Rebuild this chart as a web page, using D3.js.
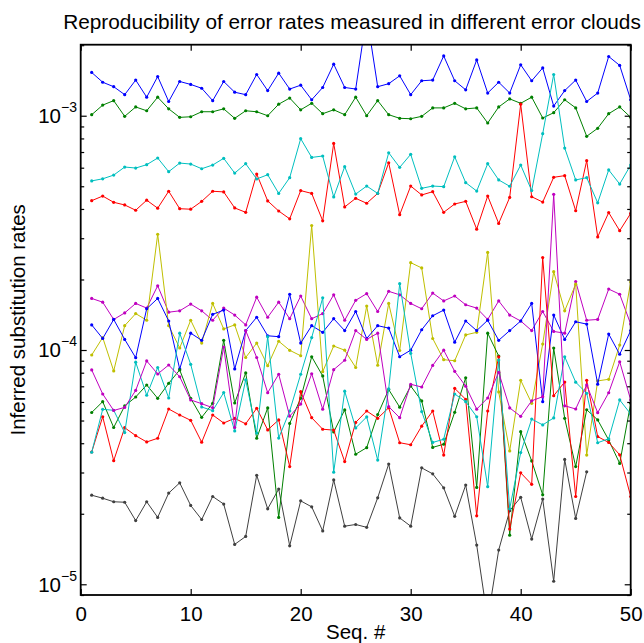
<!DOCTYPE html>
<html><head><meta charset="utf-8">
<script src="https://cdn.jsdelivr.net/npm/d3@7"></script>
<style>body{margin:0;background:#fff} svg{display:block} text{font-family:"Liberation Sans",Arial,Helvetica,sans-serif;fill:#000}</style>
</head><body><svg id="c" width="644" height="643"></svg>
<script>
const seqNo = [1,2,3,4,5,6,7,8,9,10,11,12,13,14,15,16,17,18,19,20,21,22,23,24,25,26,27,28,29,30,31,32,33,34,35,36,37,38,39,40,41,42,43,44,45,46,47,48,49,50];
const xTicks = [0,10,20,30,40,50];
const yMajorTicks = [1e-5,1e-4,1e-3];
const yTickExponents = ["\u22125","\u22124","\u22123"];

const blueHigh = [1.53e-3,1.39e-3,1.33e-3,1.23e-3,1.42e-3,1.20e-3,1.47e-3,1.15e-3,1.40e-3,1.36e-3,1.31e-3,1.16e-3,1.40e-3,1.26e-3,1.23e-3,1.50e-3,1.28e-3,1.52e-3,1.30e-3,1.35e-3,1.17e-3,1.32e-3,1.66e-3,1.32e-3,1.30e-3,2.69e-3,1.33e-3,1.37e-3,1.48e-3,1.23e-3,1.41e-3,1.42e-3,1.80e-3,1.41e-3,1.29e-3,1.73e-3,1.25e-3,1.39e-3,1.25e-3,1.65e-3,1.41e-3,1.60e-3,1.10e-3,1.28e-3,1.42e-3,1.15e-3,1.25e-3,1.79e-3,1.64e-3,1.17e-3];
const greenHigh = [1.01e-3,1.11e-3,1.16e-3,0.994e-3,1.09e-3,1.05e-3,1.20e-3,1.07e-3,0.984e-3,0.990e-3,1.04e-3,1.04e-3,1.07e-3,0.975e-3,1.05e-3,1.04e-3,1.00e-3,1.12e-3,1.19e-3,1.06e-3,1.13e-3,1.02e-3,1.06e-3,1.01e-3,1.20e-3,1.00e-3,1.16e-3,1.01e-3,0.975e-3,0.971e-3,0.994e-3,1.08e-3,1.08e-3,1.13e-3,1.07e-3,1.08e-3,0.931e-3,1.09e-3,1.18e-3,1.13e-3,1.20e-3,0.978e-3,1.03e-3,1.17e-3,1.08e-3,0.817e-3,0.884e-3,1.02e-3,1.09e-3,0.984e-3];
const redHigh = [4.34e-4,4.54e-4,4.27e-4,4.16e-4,3.95e-4,4.36e-4,4.03e-4,4.76e-4,4.01e-4,3.99e-4,4.31e-4,4.76e-4,4.73e-4,4.04e-4,3.87e-4,5.64e-4,4.33e-4,3.92e-4,3.63e-4,4.79e-4,4.66e-4,3.56e-4,7.62e-4,4.08e-4,4.44e-4,4.23e-4,4.66e-4,6.30e-4,3.78e-4,5.01e-4,4.59e-4,4.74e-4,3.87e-4,4.20e-4,4.31e-4,3.28e-4,4.54e-4,3.47e-4,4.48e-4,11.2e-4,4.51e-4,4.28e-4,5.46e-4,5.55e-4,3.93e-4,6.43e-4,3.04e-4,3.86e-4,3.23e-4,3.83e-4];
const cyanHigh = [5.27e-4,5.38e-4,5.58e-4,6.04e-4,5.98e-4,6.18e-4,6.60e-4,5.77e-4,6.28e-4,6.22e-4,5.94e-4,6.16e-4,6.58e-4,5.69e-4,6.24e-4,5.37e-4,5.60e-4,4.66e-4,5.44e-4,7.98e-4,6.64e-4,6.73e-4,4.50e-4,6.06e-4,4.63e-4,5.01e-4,4.66e-4,6.95e-4,6.02e-4,6.84e-4,4.90e-4,5.01e-4,4.98e-4,6.68e-4,5.18e-4,4.77e-4,6.24e-4,5.32e-4,5.00e-4,6.16e-4,4.79e-4,8.38e-4,15.0e-4,7.28e-4,5.32e-4,5.44e-4,4.25e-4,5.87e-4,5.11e-4,6.16e-4];
const magentaHigh = [1.66e-4,1.60e-4,1.35e-4,1.44e-4,1.58e-4,1.51e-4,1.88e-4,1.45e-4,1.47e-4,1.57e-4,1.47e-4,1.34e-4,1.51e-4,1.41e-4,1.28e-4,1.68e-4,1.38e-4,1.60e-4,1.36e-4,1.70e-4,1.36e-4,1.43e-4,1.72e-4,1.34e-4,1.63e-4,1.74e-4,1.46e-4,1.78e-4,1.72e-4,1.58e-4,1.50e-4,1.75e-4,1.62e-4,1.70e-4,1.56e-4,1.51e-4,1.35e-4,1.62e-4,1.41e-4,1.33e-4,1.21e-4,1.46e-4,1.20e-4,1.18e-4,1.96e-4,1.34e-4,1.35e-4,1.82e-4,1.73e-4,1.29e-4];
const yellowSeries = [0.952e-4,1.13e-4,0.814e-4,1.27e-4,1.43e-4,1.34e-4,3.12e-4,1.27e-4,1.02e-4,1.34e-4,1.07e-4,1.58e-4,1.23e-4,1.28e-4,0.929e-4,1.07e-4,0.857e-4,1.09e-4,0.997e-4,0.945e-4,3.40e-4,0.808e-4,1.04e-4,0.998e-4,0.842e-4,1.54e-4,0.861e-4,1.58e-4,0.995e-4,2.36e-4,2.24e-4,1.12e-4,0.909e-4,0.900e-4,1.16e-4,1.19e-4,2.61e-4,0.662e-4,0.371e-4,0.743e-4,0.592e-4,1.06e-4,2.16e-4,1.47e-4,1.91e-4,0.356e-4,0.738e-4,0.750e-4,1.05e-4,1.95e-4];
const blackSeries = [2.40e-5,2.33e-5,2.25e-5,2.24e-5,1.87e-5,2.25e-5,1.93e-5,2.45e-5,2.71e-5,2.17e-5,1.89e-5,2.37e-5,2.20e-5,1.48e-5,1.60e-5,2.92e-5,2.10e-5,2.55e-5,1.46e-5,2.27e-5,2.14e-5,1.69e-5,2.79e-5,1.77e-5,1.80e-5,1.75e-5,2.34e-5,3.26e-5,1.92e-5,1.77e-5,3.14e-5,2.96e-5,2.58e-5,1.95e-5,2.65e-5,1.47e-5,0.705e-5,1.40e-5,2.06e-5,2.35e-5,1.56e-5,2.31e-5,1.03e-5,3.41e-5,1.91e-5,3.02e-5];
const blueLow = [1.28e-4,1.12e-4,1.35e-4,1.11e-4,0.927e-4,1.50e-4,1.66e-4,1.33e-4,0.830e-4,1.18e-4,1.10e-4,1.42e-4,1.48e-4,0.830e-4,1.21e-4,1.38e-4,1.15e-4,1.14e-4,1.73e-4,1.07e-4,1.27e-4,1.19e-4,1.36e-4,1.21e-4,1.46e-4,1.12e-4,1.27e-4,1.24e-4,0.936e-4,0.998e-4,1.22e-4,1.40e-4,1.48e-4,1.08e-4,1.33e-4,1.21e-4,1.34e-4,1.10e-4,1.21e-4,1.33e-4,1.58e-4,0.602e-4,1.41e-4,1.11e-4,1.32e-4,1.29e-4,0.715e-4,1.17e-4,0.959e-4,1.21e-4];
const greenLow = [5.41e-5,6.02e-5,4.67e-5,5.77e-5,6.30e-5,7.09e-5,6.22e-5,7.21e-5,8.22e-5,6.22e-5,5.16e-5,5.92e-5,11.0e-5,5.94e-5,7.98e-5,4.20e-5,5.66e-5,1.93e-5,4.86e-5,6.22e-5,9.36e-5,7.75e-5,4.47e-5,5.55e-5,3.59e-5,3.83e-5,5.30e-5,6.78e-5,5.70e-5,7.02e-5,6.06e-5,3.84e-5,3.96e-5,5.42e-5,7.61e-5,2.59e-5,11.8e-5,9.43e-5,1.62e-5,4.48e-5,3.36e-5,2.41e-5,10.2e-5,5.11e-5,3.18e-5,5.56e-5,5.03e-5,4.13e-5,3.28e-5,5.92e-5];
const redLow = [3.67e-5,5.19e-5,3.37e-5,4.66e-5,4.31e-5,4.05e-5,4.20e-5,5.60e-5,5.28e-5,5.01e-5,4.04e-5,5.28e-5,4.88e-5,5.11e-5,4.84e-5,5.64e-5,4.56e-5,5.03e-5,3.18e-5,6.64e-5,5.14e-5,4.59e-5,4.55e-5,3.34e-5,4.91e-5,5.49e-5,5.11e-5,5.67e-5,4.02e-5,3.94e-5,4.73e-5,5.49e-5,3.56e-5,6.86e-5,6.16e-5,1.96e-5,5.49e-5,9.36e-5,1.72e-5,2.99e-5,2.67e-5,24.8e-5,6.38e-5,7.30e-5,2.37e-5,7.43e-5,4.27e-5,4.03e-5,3.57e-5,2.37e-5];
const cyanLow = [3.66e-5,5.58e-5,5.53e-5,4.44e-5,8.87e-5,6.41e-5,8.42e-5,6.24e-5,11.8e-5,8.69e-5,5.71e-5,5.51e-5,6.58e-5,4.51e-5,7.45e-5,4.42e-5,11.4e-5,4.21e-5,5.49e-5,7.88e-5,11.3e-5,16.7e-5,3.01e-5,6.67e-5,4.65e-5,5.18e-5,3.39e-5,6.82e-5,19.2e-5,9.68e-5,5.46e-5,4.03e-5,4.16e-5,6.49e-5,6.02e-5,5.19e-5,2.61e-5,9.06e-5,2.10e-5,3.65e-5,5.07e-5,4.79e-5,5.13e-5,9.36e-5,7.29e-5,6.53e-5,4.02e-5,4.18e-5,6.12e-5,5.33e-5];
const magentaLow = [8.22e-5,6.49e-5,5.52e-5,5.69e-5,6.72e-5,8.98e-5,7.90e-5,8.63e-5,7.69e-5,6.12e-5,5.90e-5,5.67e-5,10.3e-5,4.67e-5,12.1e-5,9.29e-5,6.57e-5,7.88e-5,5.22e-5,5.88e-5,7.92e-5,5.59e-5,8.24e-5,9.04e-5,12.1e-5,11.1e-5,11.8e-5,5.73e-5,5.14e-5,7.14e-5,6.95e-5,8.59e-5,9.98e-5,8.11e-5,7.01e-5,5.59e-5,6.24e-5,8.03e-5,5.66e-5,5.21e-5,6.07e-5,6.32e-5,46.2e-5,5.78e-5,5.60e-5,7.09e-5,5.40e-5,6.57e-5,8.91e-5,6.12e-5];

const seriesList = [
  {values: blueHigh, color: "#0000ff"},
  {values: greenHigh, color: "#008000"},
  {values: redHigh, color: "#ff0000"},
  {values: cyanHigh, color: "#00bfbf"},
  {values: magentaHigh, color: "#bf00bf"},
  {values: yellowSeries, color: "#bfbf00"},
  {values: blackSeries, color: "#404040"},
  {values: blueLow, color: "#0000ff"},
  {values: greenLow, color: "#008000"},
  {values: redLow, color: "#ff0000"},
  {values: cyanLow, color: "#00bfbf"},
  {values: magentaLow, color: "#bf00bf"}
];

const L = 80.7, R = 630.7, T = 44.7, B = 595;
const FS = 20.5;
const x = d3.scaleLinear().domain([0, 50]).range([L, R]);
const y = d3.scaleLog().domain([9.0e-6, 2.01e-3]).range([B, T]);
const svg = d3.select("#c");

svg.append("rect").attr("width", 644).attr("height", 643).attr("fill", "#fff");

svg.append("defs").append("clipPath").attr("id", "clip")
  .append("rect").attr("x", L).attr("y", T).attr("width", R - L).attr("height", B - T);

const plot = svg.append("g").attr("clip-path", "url(#clip)");
const line = d3.line().x((d, i) => x(seqNo[i])).y(d => y(d));

seriesList.forEach(s => {
  plot.append("path").datum(s.values).attr("d", line)
    .attr("fill", "none").attr("stroke", s.color).attr("stroke-width", 1);
  plot.append("g").selectAll("circle").data(s.values).enter().append("circle")
    .attr("cx", (d, i) => x(seqNo[i])).attr("cy", d => y(d)).attr("r", 1.6).attr("fill", s.color);
});

// axes
const minorY = y.ticks().filter(v => !yMajorTicks.some(m => Math.abs(m - v) / m < 1e-6));
function styleAxis(g) {
  g.select(".domain").remove();
  g.selectAll(".tick line").attr("stroke", "#000").attr("stroke-width", 1.2);
}
svg.append("g").attr("transform", `translate(0,${B})`)
  .call(d3.axisBottom(x).tickValues(xTicks).tickSize(-6).tickPadding(11).tickFormat(d3.format("d")))
  .call(styleAxis)
  .selectAll("text").attr("font-size", FS).attr("font-family", "Liberation Sans, Arial, sans-serif");
svg.append("g").attr("transform", `translate(0,${T})`)
  .call(d3.axisTop(x).tickValues(xTicks).tickSize(-6).tickFormat(""))
  .call(styleAxis);
[[L, d3.axisLeft], [R, d3.axisRight]].forEach(([pos, ax]) => {
  svg.append("g").attr("transform", `translate(${pos},0)`)
    .call(ax(y).tickValues(yMajorTicks).tickSize(-6).tickFormat(""))
    .call(styleAxis);
  svg.append("g").attr("transform", `translate(${pos},0)`)
    .call(ax(y).tickValues(minorY).tickSize(-3.5).tickFormat(""))
    .call(styleAxis);
});

// y tick labels 10^n
yMajorTicks.forEach((v, i) => {
  const t = svg.append("text").attr("x", 77).attr("y", y(v) + 7.3).attr("text-anchor", "end");
  t.append("tspan").attr("font-size", FS).text("10");
  t.append("tspan").attr("font-size", 14).attr("dy", -11).text(yTickExponents[i]);
});

// frame
svg.append("rect").attr("x", L).attr("y", T).attr("width", R - L).attr("height", B - T)
  .attr("fill", "none").attr("stroke", "#000").attr("stroke-width", 1.8);

// titles
svg.append("text").attr("x", 352).attr("y", 29).attr("text-anchor", "middle")
  .attr("font-size", 20.8).text("Reproducibility of error rates measured in different error clouds");
svg.append("text").attr("x", (L + R) / 2).attr("y", 639).attr("text-anchor", "middle")
  .attr("font-size", FS).text("Seq. #");
svg.append("text").attr("transform", `translate(25,${(T + B) / 2}) rotate(-90)`).attr("text-anchor", "middle")
  .attr("font-size", FS).text("Inferred substitution rates");
</script></body></html>
